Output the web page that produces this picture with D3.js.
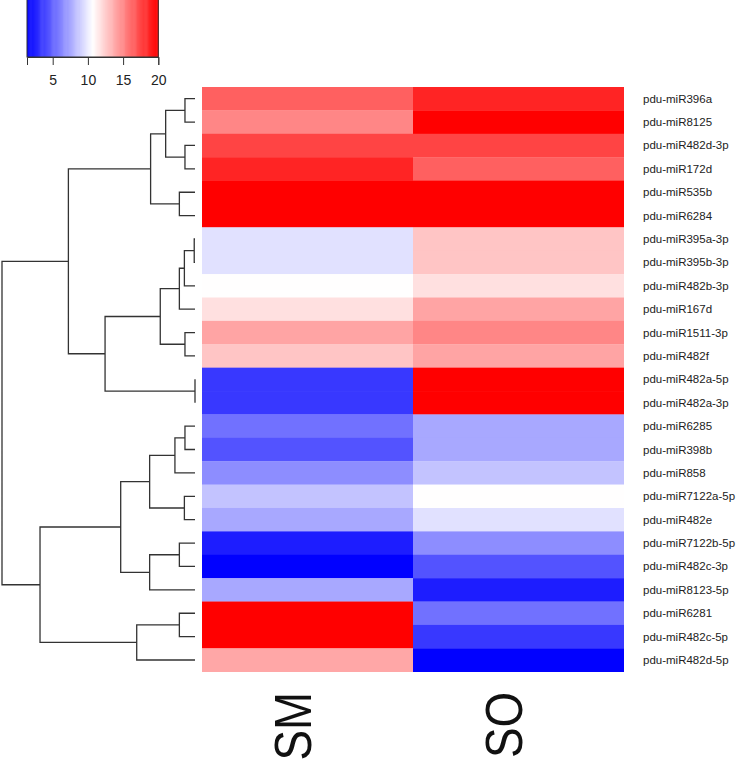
<!DOCTYPE html>
<html>
<head>
<meta charset="utf-8">
<script src="https://cdn.jsdelivr.net/npm/d3@7"></script>
<style>
  html, body { margin: 0; padding: 0; background: #fff; }
  svg { display: block; }
  text { font-family: "Liberation Sans", Arial, sans-serif; }
</style>
</head>
<body>
<svg id="chart" width="750" height="762"></svg>
<script>
// ---------------- data ----------------
const rowLabels = [
  "pdu-miR396a", "pdu-miR8125", "pdu-miR482d-3p", "pdu-miR172d", "pdu-miR535b",
  "pdu-miR6284", "pdu-miR395a-3p", "pdu-miR395b-3p", "pdu-miR482b-3p", "pdu-miR167d",
  "pdu-miR1511-3p", "pdu-miR482f", "pdu-miR482a-5p", "pdu-miR482a-3p", "pdu-miR6285",
  "pdu-miR398b", "pdu-miR858", "pdu-miR7122a-5p", "pdu-miR482e", "pdu-miR7122b-5p",
  "pdu-miR482c-3p", "pdu-miR8123-5p", "pdu-miR6281", "pdu-miR482c-5p", "pdu-miR482d-5p"
];
const colLabels = ["SM", "SO"];
const smValues = [16.5, 15.1, 17.5, 18.7, 20, 20, 9.6, 9.6, 10.7, 11.8, 14.0, 12.8, 3.4, 3.4,
                  5.5, 4.4, 6.5, 8.5, 7.5, 2.4, 1.4, 7.5, 20, 20, 13.9];
const soValues = [18.7, 20, 17.5, 16.5, 20, 20, 12.8, 12.8, 11.8, 14.0, 15.1, 14.0, 20, 20,
                  7.5, 7.5, 8.5, 10.7, 9.6, 6.5, 4.4, 2.4, 5.5, 3.4, 1.4];
const keyTicks = [5, 10, 15, 20];
const valueDomain = [1.35, 10.68, 20];
// row dendrogram merges: [childA, childB, height]; negative = leaf (-(index+1)), positive = merge id (1-based)
const rowMerges = [
  [-1, -2, 5.2], [-3, -4, 5.2], [1, 2, 15.2], [-5, -6, 8.1], [3, 4, 23.0],
  [-7, -8, 0.4], [6, -9, 5.5], [7, -10, 8.1], [-11, -12, 5.2], [8, 9, 18.0],
  [-13, -14, 0.0], [10, 11, 46.6], [5, 12, 65.6],
  [-15, -16, 5.2], [14, -17, 10.4], [-18, -19, 5.5], [15, 16, 23.5],
  [-20, -21, 8.1], [18, -22, 23.5], [17, 19, 38.5],
  [-23, -24, 8.1], [21, -25, 30.2], [20, 22, 80.3], [13, 23, 100]
];

// ---------------- drawing ----------------
const svg = d3.select("#chart");
const hmLeft = 202, hmRight = 624, hmTop = 87, hmBottom = 671.7;

const matrix = [smValues, soValues];
const x = d3.scaleBand().domain(colLabels).range([hmLeft, hmRight]);
const y = d3.scaleBand().domain(d3.range(rowLabels.length)).range([hmTop, hmBottom]);
const color = d3.scaleLinear().domain(valueDomain).range(["#0000ff", "#ffffff", "#ff0000"])
  .interpolate(d3.interpolateRgb).clamp(true);

// heatmap cells
const cells = [];
colLabels.forEach((c, ci) => rowLabels.forEach((r, ri) => cells.push({c, ri, v: matrix[ci][ri]})));
svg.append("g").selectAll("rect").data(cells).join("rect")
  .attr("x", d => x(d.c))
  .attr("y", d => y(d.ri))
  .attr("width", x.bandwidth())
  .attr("height", y.bandwidth() + 0.3)
  .attr("fill", d => color(d.v));

// row labels
svg.append("g").selectAll("text").data(rowLabels).join("text")
  .attr("x", 643)
  .attr("y", (d, i) => y(i) + y.bandwidth() / 2)
  .attr("dy", "0.35em")
  .attr("font-size", 11.5)
  .attr("fill", "#222")
  .text(d => d);

// column labels
svg.append("g").selectAll("text").data(colLabels).join("text")
  .attr("transform", d => `translate(${x(d) + x.bandwidth() / 2 + 3},692) rotate(-90) scale(0.88,1)`)
  .attr("text-anchor", "end")
  .attr("font-size", 52)
  .attr("fill", "#111")
  .text(d => d);

// row dendrogram
const hx = d3.scaleLinear().domain([0, 100]).range([195, 2]);
const nodes = [];
function pos(id) {
  if (id < 0) { const i = -id - 1; return {y: y(i) + y.bandwidth() / 2, h: 0}; }
  return nodes[id - 1];
}
const dendroPath = d3.path();
rowMerges.forEach(([a, b, h]) => {
  const pa = pos(a), pb = pos(b);
  const xn = hx(h);
  dendroPath.moveTo(hx(pa.h), pa.y);
  dendroPath.lineTo(xn, pa.y);
  dendroPath.lineTo(xn, pb.y);
  dendroPath.lineTo(hx(pb.h), pb.y);
  nodes.push({y: (pa.y + pb.y) / 2, h});
});
svg.append("path")
  .attr("d", dendroPath.toString())
  .attr("fill", "none")
  .attr("stroke", "#333")
  .attr("stroke-width", 1.3);

// color key
const kx = d3.scaleLinear().domain([valueDomain[0], valueDomain[2]]).range([27, 158.3]);
const keyTop = -5, keyBottom = 57;
const steps = d3.range(0, 120).map(i => valueDomain[0] + (valueDomain[2] - valueDomain[0]) * i / 120);
const stepW = (valueDomain[2] - valueDomain[0]) / 120;
svg.append("g").selectAll("rect").data(steps).join("rect")
  .attr("x", d => kx(d))
  .attr("y", keyTop)
  .attr("width", kx(d3.min(steps) + stepW) - kx(d3.min(steps)) + 0.5)
  .attr("height", keyBottom - keyTop)
  .attr("fill", d => color(d + stepW / 2));
svg.append("rect")
  .attr("x", kx.range()[0]).attr("y", keyTop)
  .attr("width", kx.range()[1] - kx.range()[0]).attr("height", keyBottom - keyTop)
  .attr("fill", "none").attr("stroke", "#333").attr("stroke-width", 1);
const keyAxis = d3.axisBottom(kx).tickValues(keyTicks).tickSize(8).tickPadding(10).tickFormat(d3.format("d"));
const kg = svg.append("g").attr("transform", `translate(0,${keyBottom})`).call(keyAxis);
kg.select(".domain").attr("stroke", "#333");
kg.selectAll(".tick line").attr("stroke", "#333");
kg.selectAll(".tick text").attr("font-size", 14).attr("fill", "#222")
  .attr("font-family", "Liberation Sans, Arial, sans-serif");
</script>
</body>
</html>
